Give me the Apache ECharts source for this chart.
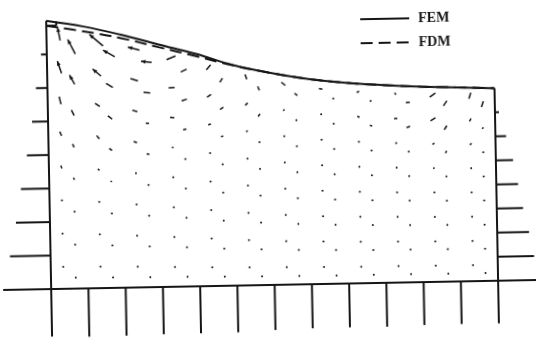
<!DOCTYPE html>
<html>
<head>
<meta charset="utf-8">
<script src="https://cdn.jsdelivr.net/npm/echarts@6/dist/echarts.min.js"></script>
<style>
  html, body { margin: 0; padding: 0; background: #fff; }
  /* the scanned figure sits about one degree off square */
  #chart { width: 536px; height: 340px; transform: rotate(-1.07deg); }
</style>
</head>
<body>
<div id="chart"></div>
<script>
// mesh: 12 elements across, 8 layers in depth, each quad split in two triangles
const NX = 12
const NY = 8
const nodeX = [0, 1, 2, 3, 4, 5, 6, 7, 8, 9, 10, 11, 12]
const surfaceFEM = [7.20, 7.03, 6.79, 6.51, 6.24, 5.92, 5.69, 5.51, 5.39, 5.31, 5.25, 5.21, 5.17]
const surfaceFDM = [7.07, 6.90, 6.70, 6.44, 6.18, 5.91, 5.69, 5.51, 5.39, 5.31, 5.25, 5.21, 5.17]

// boundary pressure, node j = 0 (bottom) .. 7
const leftPressure = [1.29, 1.09, 0.913, 0.762, 0.585, 0.43, 0.309, 0.156]
const rightPressure = [1.10, 0.977, 0.854, 0.706, 0.583, 0.462, 0.287, 0.107]
// bottom pressure, node i = 0 .. 12
const bottomPressure = [1.278, 1.297, 1.289, 1.27, 1.262, 1.254, 1.211, 1.184, 1.176, 1.178, 1.152, 1.144, 1.144]

// velocity (u right, v up) at triangle centroids, A = upper-left, B = lower-right triangle
const velA7 = [[-2.4, 13.3], [-13.4, 11.7], [-11.6, 3.3], [9, 3.5], [4.3, 5], [-1.7, 5], [-4, 3.3], [-3.4, 0.7], [2.3, 1.3], [-1, 2], [5.7, 4], [2, 6]]
const velB7 = [[-7.3, 14.7], [-11.6, 6.7], [-10.7, 1.3], [6, 2.7], [2.7, 4], [-1.6, 4], [-2.7, 2.4], [-1, 1], [0.5, 2], [4, 0.3], [3.6, 5], [2, 5.7]]
const velA6 = [[-4, 12.3], [-8.3, 7.3], [-7.4, 2.4], [6, 0.4], [4, 2.7], [2.7, 2.3], [1.5, 1], [1, 0.3], [-2.3, 1], [3.3, 0.3], [5, 3], [1.7, 2.7]]
const velB6 = [[-5, 9.3], [-6.7, 4.3], [-6.6, 0.7], [5.3, 1.7], [3.3, 2.3], [2, 2.7], [1, 0.5], [1, 0.5], [-2.3, 0.7], [3.5, 1.2], [2.7, 4], [0.7, 1.7]]
const velA5 = [[-1.7, 7.7], [-4.7, 3.3], [-5, 1.7], [-4.3, 0.3], [2.7, 0.7], [1.7, 1], [0.8, 0.5], [0.8, 0.3], [1, 0.5], [1.2, 0.5], [1.7, 1.6], [1.4, 1.9]]
const velB5 = [[-2.7, 5.6], [-4.3, 3.4], [-3.3, 0.3], [3.3, 0.7], [2.3, 0.3], [1, 0.5], [0.8, 0.3], [0.8, 0.3], [1, 0.3], [1, 0.5], [1, 2.3], [0.6, 1]]
const velA4 = [[-1.7, 4.4], [-2.6, 3.4], [-3.3, 1.3], [-1.7, 0.3], [1.5, 0.3], [1, 0.3], [0.8, 0.2], [0.8, 0.2], [0.8, 0.2], [0.8, 0.3], [1.2, 1.2], [1, 1.2]]
const velB4 = [[-1.6, 3.3], [-2.7, 2.3], [-2.7, 0.7], [1.2, 0.3], [1, 0.3], [0.8, 0.2], [0.8, 0.2], [0.8, 0.2], [0.8, 0.2], [0.8, 0.3], [1, 1], [0.6, 0.8]]
const velA3 = [[-1, 3], [-1.7, 1.3], [-1.3, 0.3], [0, 0], [0, 0], [0, 0], [0, 0], [0, 0], [0, 0], [0, 0], [0.8, 0.8], [0.6, 0.8]]
const velB3 = [[-1, 2], [-1.3, 1], [-1, 0.3], [0, 0], [0, 0], [0, 0], [0, 0], [0, 0], [0, 0], [0, 0], [0.6, 0.8], [0, 0]]
const velRowsA = [null, null, null, velA3, velA4, velA5, velA6, velA7]
const velRowsB = [null, null, null, velB3, velB4, velB5, velB6, velB7]

const INK = '#151515'
const ARROW_SCALE = 1

// triangle centroids of the FEM mesh, with their velocity
const vectors = []
for (let j = 0; j < NY; j++) {
  for (let i = 0; i < NX; i++) {
    const h0 = surfaceFEM[i]; const h1 = surfaceFEM[i + 1]
    const a = velRowsA[j] ? velRowsA[j][i] : [0, 0]
    const b = velRowsB[j] ? velRowsB[j][i] : [0, 0]
    vectors.push([nodeX[i] + 1 / 3, ((2 * j + 1) * h0 + (j + 1) * h1) / (3 * NY), a[0], a[1]])
    vectors.push([nodeX[i] + 2 / 3, (j * h0 + (2 * j + 1) * h1) / (3 * NY), b[0], b[1]])
  }
}

// walls, bottom and pressure ticks as segments [x0, y0, x1, y1]
const hL = surfaceFEM[0]; const hR = surfaceFEM[NX]
const frame = []
frame.push([-leftPressure[0], 0, nodeX[NX] + rightPressure[0], 0])
frame.push([0, -bottomPressure[0], 0, hL])
frame.push([nodeX[NX], -bottomPressure[NX], nodeX[NX], hR])
for (let i = 1; i < NX; i++) frame.push([nodeX[i], 0, nodeX[i], -bottomPressure[i]])
for (let j = 1; j < NY; j++) {
  frame.push([0, j * hL / NY, -leftPressure[j], j * hL / NY])
  frame.push([nodeX[NX], j * hR / NY, nodeX[NX] + rightPressure[j], j * hR / NY])
}
// little box where the FDM surface leaves the corner
frame.push([0, surfaceFDM[0], 0.27, surfaceFDM[0]])
frame.push([0.27, surfaceFDM[0], 0.27, surfaceFEM[0] - 0.02])

const chart = echarts.init(document.getElementById('chart'))

chart.setOption({
  animation: false,
  backgroundColor: '#fff',
  grid: { left: 0, right: 0, top: 0, bottom: 0 },
  xAxis: { type: 'value', min: -1.3154, max: 13.0738, show: false },
  yAxis: { type: 'value', min: -1.4765, max: 7.651, show: false },
  legend: {
    data: ['FEM', 'FDM'],
    orient: 'vertical',
    left: 357,
    top: 9,
    itemWidth: 49,
    itemHeight: 14,
    itemGap: 10,
    itemStyle: { opacity: 0 },
    textStyle: {
      color: INK,
      fontFamily: 'Liberation Serif',
      fontSize: 14,
      fontWeight: 'bold',
      padding: [0, 0, 0, 4]
    }
  },
  series: [
    {
      name: 'frame',
      type: 'custom',
      silent: true,
      data: frame,
      renderItem (params, api) {
        const p0 = api.coord([api.value(0), api.value(1)])
        const p1 = api.coord([api.value(2), api.value(3)])
        return {
          type: 'line',
          shape: { x1: p0[0], y1: p0[1], x2: p1[0], y2: p1[1] },
          style: { stroke: INK, lineWidth: 2 }
        }
      }
    },
    {
      name: 'velocity',
      type: 'custom',
      silent: true,
      data: vectors,
      renderItem (params, api) {
        const p = api.coord([api.value(0), api.value(1)])
        const u = api.value(2) * ARROW_SCALE
        const v = -api.value(3) * ARROW_SCALE
        const len = Math.hypot(u, v)
        if (len < 1.6) {
          return { type: 'circle', shape: { cx: p[0], cy: p[1], r: 1 }, style: { fill: INK } }
        }
        const x2 = p[0] + u / 2; const y2 = p[1] + v / 2
        const children = [{
          type: 'line',
          shape: { x1: p[0] - u / 2, y1: p[1] - v / 2, x2, y2 },
          style: { stroke: INK, lineWidth: 1.5 }
        }]
        if (len >= 10) {
          const ux = u / len; const uy = v / len
          const bx = x2 - ux * 4.5; const by = y2 - uy * 4.5
          children.push({
            type: 'polygon',
            shape: { points: [[x2, y2], [bx - uy * 2, by + ux * 2], [bx + uy * 2, by - ux * 2]] },
            style: { fill: INK }
          })
        }
        return { type: 'group', children }
      }
    },
    {
      name: 'FEM',
      type: 'line',
      smooth: 0.4,
      symbol: 'none',
      data: nodeX.map((x, i) => [x, surfaceFEM[i]]),
      lineStyle: { color: INK, width: 2 },
      itemStyle: { color: INK }
    },
    {
      name: 'FDM',
      type: 'line',
      smooth: 0.4,
      symbol: 'none',
      data: nodeX.map((x, i) => [x, surfaceFDM[i]]),
      lineStyle: { color: INK, width: 2, type: [12, 6] },
      itemStyle: { color: INK }
    }
  ]
})
</script>
</body>
</html>
